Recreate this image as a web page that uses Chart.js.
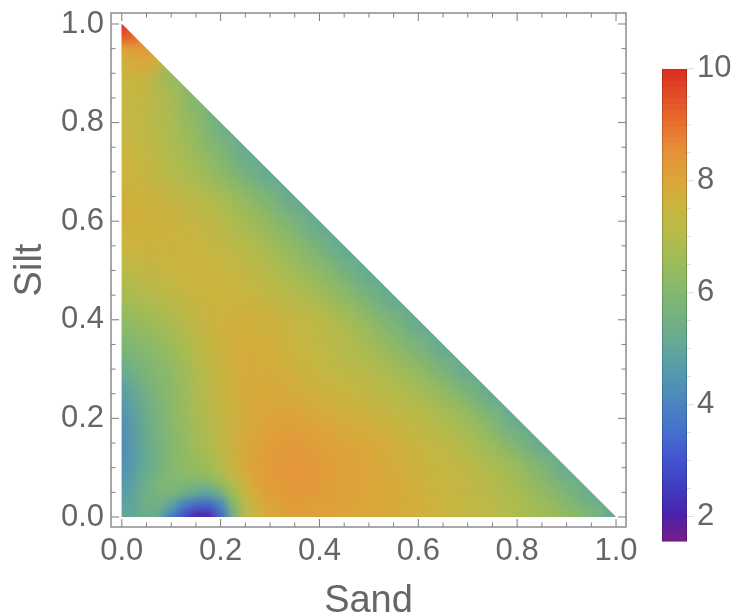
<!DOCTYPE html>
<html>
<head>
<meta charset="utf-8">
<title>Sand Silt</title>
<script src="https://cdn.jsdelivr.net/npm/chart.js@4"></script>
<style>
  html, body { margin: 0; padding: 0; background: #fff; }
  #wrap { position: relative; width: 733px; height: 616px; overflow: hidden; }
  canvas { position: absolute; top: 0; }
  #main { left: 0; }
  #bar { left: 640px; }
</style>
</head>
<body>
<div id="wrap">
  <canvas id="main" width="733" height="616"></canvas>
  <canvas id="bar" width="93" height="616"></canvas>
</div>
<script>
"use strict"

// axis ticks
const tickLabels = [0, 0.2, 0.4, 0.6, 0.8, 1];
const tickMinor = [0.05, 0.1, 0.15, 0.25, 0.3, 0.35, 0.45, 0.5, 0.55, 0.65, 0.7, 0.75, 0.85, 0.9, 0.95];
const barLabels = [2, 4, 6, 8, 10];
const barMinor = [2.5, 3, 3.5, 4.5, 5, 5.5, 6.5, 7, 7.5, 8.5, 9, 9.5];

// colour scale
const cmapValues = [1.55, 2, 2.5, 3, 3.5, 4, 4.5, 5, 5.5, 6, 6.5, 7, 7.5, 8, 8.5, 9, 9.5, 10];
const cmapColors = ["#781c86", "#4a22a8", "#403cc0", "#4255cf", "#4570cd", "#4a85c0", "#5398b0", "#62a89a", "#73b080", "#83b870", "#9bbc58", "#b5bb4d", "#c9b53f", "#dca53a", "#e6913a", "#e8702f", "#e24d28", "#dc2a22"];

// whole triangle, silt 0 -> 1 (rows), sand 0 -> 1-silt
const coarseStep = 0.05;
const coarseRows = [
  [5.0,5.2,3.6,1.9,3.6,7.0,7.9,8.1,8.05,8.0,7.9,7.8,7.7,7.5,7.3,7.1,6.9,6.7,6.4,5.9,5.0],
  [4.6,5.2,5.9,5.4,5.7,7.4,8.1,8.4,8.25,8.1,8.0,7.9,7.7,7.5,7.3,7.1,6.8,6.4,5.8,5.1],
  [4.2,5.1,6.0,6.4,7.0,7.8,8.25,8.45,8.25,8.1,8.0,7.8,7.6,7.4,7.2,6.9,6.5,5.9,5.1],
  [4.1,5.2,6.0,6.6,7.2,7.9,8.2,8.3,8.15,8.0,7.9,7.7,7.4,7.2,6.9,6.4,5.8,5.0],
  [4.2,5.3,6.1,6.7,7.3,7.8,8.05,8.05,7.95,7.75,7.6,7.4,7.2,6.9,6.5,5.9,5.0],
  [4.6,5.5,6.1,6.8,7.4,7.8,7.9,7.8,7.6,7.5,7.3,7.1,6.8,6.4,5.8,5.0],
  [5.2,5.8,6.2,6.9,7.5,7.8,7.8,7.6,7.4,7.2,7.0,6.7,6.3,5.7,5.0],
  [5.8,6.1,6.5,7.1,7.6,7.8,7.7,7.5,7.3,7.0,6.7,6.2,5.7,5.0],
  [6.2,6.5,6.8,7.3,7.6,7.7,7.6,7.4,7.2,6.8,6.3,5.7,5.0],
  [6.7,7.0,7.2,7.5,7.6,7.5,7.3,7.0,6.7,6.2,5.6,5.0],
  [7.1,7.3,7.5,7.6,7.5,7.3,7.0,6.6,6.2,5.6,5.0],
  [7.5,7.6,7.6,7.5,7.3,7.1,6.7,6.2,5.6,5.0],
  [7.7,7.7,7.6,7.4,7.1,6.7,6.3,5.7,5.0],
  [7.7,7.6,7.4,7.1,6.8,6.3,5.7,5.0],
  [7.6,7.4,7.0,6.7,6.2,5.5,5.0],
  [7.5,7.3,6.9,6.4,5.8,5.1],
  [7.4,7.2,6.8,6.2,5.3],
  [7.4,7.3,6.8,5.8],
  [7.5,7.6,6.2],
  [8.0,8.0],
  [9.5]
];

// finer cells for the dark blob at the bottom
const blobSand = [0.05, 0.075, 0.1, 0.125, 0.15, 0.175, 0.2, 0.225, 0.25, 0.275, 0.3];
const blobSilt = [0, 0.025, 0.05, 0.075, 0.1];
const blobRows = [
  [5.3,5.0,3.7,2.9,2.0,1.9,3.2,5.4,7.0,7.6,7.9],
  [5.4,5.5,4.9,3.9,3.4,3.3,4.0,5.9,7.1,7.7,8.0],
  [5.4,5.7,5.8,5.5,5.1,4.9,5.5,6.6,7.4,7.9,8.2],
  [5.3,5.8,6.0,6.0,6.0,6.1,6.5,7.1,7.7,8.1,8.2],
  [5.1,5.6,6.0,6.2,6.4,6.6,7.0,7.5,7.9,8.1,8.25]
];

// finer cells for the red tip at the top
const tipSand = [0, 0, 0.025, 0, 0.025, 0.05, 0, 0.025, 0.05, 0.075];
const tipSilt = [1, 0.975, 0.975, 0.95, 0.95, 0.95, 0.925, 0.925, 0.925, 0.925];
const tipValues = [10, 9.4, 9.2, 8.1, 8.3, 8.3, 7.7, 7.8, 8.0, 7.6];

function hexToRgb(h) {
  return [1, 3, 5].map(i => parseInt(h.substr(i, 2), 16));
}

function colorOf(v, dim) {
  let i = 0;
  while (i < cmapValues.length - 2 && v > cmapValues[i + 1]) i++;
  let t = (v - cmapValues[i]) / (cmapValues[i + 1] - cmapValues[i]);
  t = Math.max(0, Math.min(1, t));
  const a = hexToRgb(cmapColors[i]);
  const b = hexToRgb(cmapColors[i + 1]);
  const k = dim || 1;
  const c = a.map((p, n) => Math.round((p + (b[n] - p) * t) * k));
  return "rgb(" + c.join(",") + ")";
}

const coarsePoints = [];
const coarseColors = [];
coarseRows.forEach((row, r) => {
  row.forEach((v, c) => {
    coarsePoints.push({ x: c * coarseStep, y: r * coarseStep });
    coarseColors.push(colorOf(v));
  });
});

const finePoints = [];
const fineColors = [];
blobRows.forEach((row, r) => {
  row.forEach((v, c) => {
    finePoints.push({ x: blobSand[c], y: blobSilt[r] });
    fineColors.push(colorOf(v));
  });
});
tipValues.forEach((v, i) => {
  finePoints.push({ x: tipSand[i], y: tipSilt[i] });
  fineColors.push(colorOf(v));
});

const gray = "#666666";
const tickFont = { family: "'Liberation Sans', Arial, sans-serif", size: 31 };
const titleFont = { family: "'Liberation Sans', Arial, sans-serif", size: 38 };
const blurByDataset = [4, 11];

// softens the cells and cuts them down to the triangle
const smoothCells = {
  id: "smoothCells",
  beforeDatasetsDraw(chart) {
    chart.$layers = [];
  },
  afterDatasetDraw(chart, args) {
    const src = chart.canvas;
    const soft = document.createElement("canvas");
    soft.width = src.width;
    soft.height = src.height;
    const sctx = soft.getContext("2d");
    sctx.filter = "blur(" + blurByDataset[args.index] + "px)";
    sctx.drawImage(src, 0, 0);
    const raw = document.createElement("canvas");
    raw.width = src.width;
    raw.height = src.height;
    raw.getContext("2d").drawImage(src, 0, 0);
    chart.$layers.push({ raw: raw, soft: soft });
    chart.ctx.clearRect(0, 0, src.width, src.height);
  },
  afterDatasetsDraw(chart) {
    const ctx = chart.ctx;
    const xs = chart.scales.x;
    const ys = chart.scales.y;
    ctx.save();
    ctx.beginPath();
    ctx.moveTo(xs.getPixelForValue(0), ys.getPixelForValue(0));
    ctx.lineTo(xs.getPixelForValue(1), ys.getPixelForValue(0));
    ctx.lineTo(xs.getPixelForValue(0), ys.getPixelForValue(1));
    ctx.closePath();
    ctx.clip();
    ctx.drawImage(chart.$layers[0].raw, 0, 0);
    chart.$layers.forEach(l => ctx.drawImage(l.soft, 0, 0));
    ctx.restore();
  }
};

// frame with inward ticks on all four sides
const frameTicks = {
  id: "frameTicks",
  afterDraw(chart) {
    const ctx = chart.ctx;
    const a = chart.chartArea;
    const xs = chart.scales.x;
    const ys = chart.scales.y;
    ctx.save();
    ctx.strokeStyle = "#7d7d7d";
    ctx.lineWidth = 1;
    function tick(list, len) {
      list.forEach(v => {
        const px = xs.getPixelForValue(v);
        const py = ys.getPixelForValue(v);
        ctx.beginPath();
        ctx.moveTo(px, a.bottom); ctx.lineTo(px, a.bottom - len);
        ctx.moveTo(px, a.top); ctx.lineTo(px, a.top + len);
        ctx.moveTo(a.left, py); ctx.lineTo(a.left + len, py);
        ctx.moveTo(a.right, py); ctx.lineTo(a.right - len, py);
        ctx.stroke();
      });
    }
    tick(tickLabels, 8);
    tick(tickMinor, 4.5);
    ctx.strokeStyle = "#8c8c8c";
    ctx.lineWidth = 1.5;
    ctx.strokeRect(a.left, a.top, a.right - a.left, a.bottom - a.top);
    ctx.restore();
  }
};

new Chart(document.getElementById("main"), {
  type: "scatter",
  data: {
    datasets: [
      { data: finePoints, pointBackgroundColor: fineColors, pointRadius: 9, order: 1 },
      { data: coarsePoints, pointBackgroundColor: coarseColors, pointRadius: 18, order: 2 }
    ]
  },
  options: {
    responsive: false,
    animation: false,
    devicePixelRatio: 1,
    layout: { padding: { top: 13, right: 107, left: 0, bottom: 0 }, autoPadding: false },
    elements: { point: { pointStyle: "rect", borderWidth: 0, hoverRadius: 0 } },
    plugins: { legend: { display: false }, tooltip: { enabled: false } },
    scales: {
      x: {
        type: "linear",
        min: -0.0218,
        max: 1.0202,
        afterFit: s => { s.height = 89; s.paddingLeft = 0; s.paddingRight = 0; },
        afterBuildTicks: s => { s.ticks = tickLabels.map(v => ({ value: v })); },
        grid: { display: false, drawTicks: false, z: 1 },
        border: { display: false },
        ticks: {
          z: 1, color: gray, font: tickFont, padding: 6, maxRotation: 0, autoSkip: false,
          callback: v => v.toFixed(1)
        },
        title: { display: true, text: "Sand", color: gray, font: titleFont, padding: { top: 0, bottom: -8 } }
      },
      y: {
        type: "linear",
        min: -0.0203,
        max: 1.0223,
        afterFit: s => { s.width = 111; s.paddingTop = 0; s.paddingBottom = 0; },
        afterBuildTicks: s => { s.ticks = tickLabels.map(v => ({ value: v })); },
        grid: { display: false, drawTicks: false, z: 1 },
        border: { display: false },
        ticks: {
          z: 1, color: gray, font: tickFont, padding: 7, autoSkip: false,
          callback: v => v.toFixed(1)
        },
        title: { display: true, text: "Silt", color: gray, font: titleFont, padding: { top: 8, bottom: 0 } }
      }
    }
  },
  plugins: [smoothCells, frameTicks]
});

/* colour bar */
const barLevels = [];
for (let v = 1.55; v < 10; v += 0.1) barLevels.push(v);

const barSets = barLevels.map(v => ({
  data: [[v, Math.min(v + 0.12, 10)]],
  backgroundColor: colorOf(v + 0.05),
  borderColor: colorOf(v + 0.05, 0.72),
  borderWidth: { left: 1, right: 1, top: 0, bottom: 0 },
  borderSkipped: false,
  barPercentage: 1,
  categoryPercentage: 1
}));

const barTicks = {
  id: "barTicks",
  afterDraw(chart) {
    const ctx = chart.ctx;
    const a = chart.chartArea;
    const ys = chart.scales.y;
    ctx.save();
    ctx.strokeStyle = "#dcdcdc";
    ctx.lineWidth = 1;
    function tick(list, len) {
      list.forEach(v => {
        const py = ys.getPixelForValue(v);
        ctx.beginPath();
        ctx.moveTo(a.right, py);
        ctx.lineTo(a.right + len, py);
        ctx.stroke();
      });
    }
    tick(barLabels, 7);
    tick(barMinor, 4);
    ctx.restore();
  }
};

new Chart(document.getElementById("bar"), {
  type: "bar",
  data: { labels: [""], datasets: barSets },
  options: {
    responsive: false,
    animation: false,
    devicePixelRatio: 1,
    layout: { padding: { left: 22, top: 68.7, bottom: 74.3, right: 0 }, autoPadding: false },
    plugins: { legend: { display: false }, tooltip: { enabled: false } },
    scales: {
      x: { display: false, stacked: true },
      y: {
        position: "right",
        min: 1.55,
        max: 10,
        afterFit: s => { s.width = 46; },
        afterBuildTicks: s => { s.ticks = barLabels.map(v => ({ value: v })); },
        grid: { display: false, drawTicks: false },
        border: { display: false },
        ticks: { color: gray, font: tickFont, padding: 10, autoSkip: false }
      }
    }
  },
  plugins: [barTicks]
});
</script>
</body>
</html>
